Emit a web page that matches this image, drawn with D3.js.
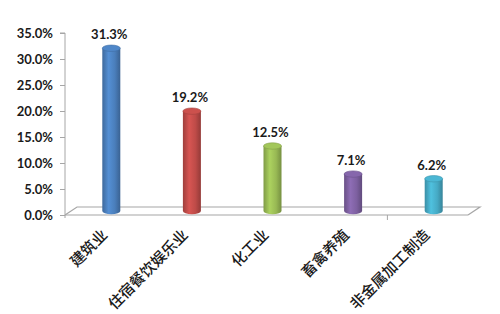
<!DOCTYPE html>
<html><head><meta charset="utf-8">
<script src="https://cdn.jsdelivr.net/npm/d3@7"></script>
<style>body{margin:0;background:#fff}svg{display:block}</style>
</head><body>
<svg id="c" width="500" height="314"></svg>
<script>
const categories = ["建筑业","住宿餐饮娱乐业","化工业","畜禽养殖","非金属加工制造"];
const values = [31.3, 19.2, 12.5, 7.1, 6.2];
const colors = ["#4a7ebb","#be4b48","#98b954","#7d60a0","#46aac5"];
const yTicks = [0,5,10,15,20,25,30,35];

const svg = d3.select("#c");
const x0 = 65, x1 = 468, yTop = 33, yBot = 215;
const dx = 12, dy = -8;
const x = d3.scaleBand().domain(categories).range([x0, x1]).padding(0);
const y = d3.scaleLinear().domain([0, 35]).range([yBot, yTop]);
const axisCol = "#a6a6a6";

const defs = svg.append("defs");
colors.forEach((c, i) => {
  const g = defs.append("linearGradient").attr("id", "g" + i).attr("x1", "0").attr("x2", "1").attr("y1", "0").attr("y2", "0");
  const base = d3.color(c);
  g.append("stop").attr("offset", "0").attr("stop-color", base.darker(0.5));
  g.append("stop").attr("offset", "0.35").attr("stop-color", base.brighter(0.35));
  g.append("stop").attr("offset", "0.7").attr("stop-color", base);
  g.append("stop").attr("offset", "1").attr("stop-color", base.darker(0.7));
});

// floor
svg.append("path")
  .attr("d", `M${x0},${yBot}L${x0+dx},${yBot+dy}L${x1+dx},${yBot+dy}L${x1},${yBot}`)
  .attr("fill", "none").attr("stroke", axisCol).attr("stroke-width", 1.2);
svg.append("line").attr("x1", x0).attr("x2", x1).attr("y1", yBot).attr("y2", yBot)
  .attr("stroke", axisCol).attr("stroke-width", 1.2);

// y axis
const yAxis = d3.axisLeft(y).tickValues(yTicks).tickSize(5).tickFormat(d => d.toFixed(1) + "%");
const ga = svg.append("g").attr("transform", `translate(${x0},0)`).call(yAxis);
ga.select(".domain").attr("stroke", axisCol).attr("d", `M-5,${yTop}H0V${yBot+3}`);
ga.selectAll(".tick line").attr("stroke", axisCol);
ga.selectAll(".tick text").attr("x", -12).attr("fill", "#1a1a1a")
  .style("font", "bold 13px Lato, 'Liberation Sans', sans-serif");

// category boundary tick
svg.append("line").attr("x1", x(categories[4])).attr("x2", x(categories[4]))
  .attr("y1", yBot).attr("y2", yBot + 5).attr("stroke", axisCol);

// cylinders
const bw = 18, ry = 3.2;
const bars = svg.append("g").selectAll("g").data(values).join("g");
bars.each(function(v, i) {
  const cx = x(categories[i]) + x.bandwidth() / 2 + dx / 2;
  const yb = y(0) + dy / 2;
  const yt = y(v) + dy / 2;
  const g = d3.select(this);
  g.append("path")
    .attr("d", `M${cx-bw/2},${yt}L${cx-bw/2},${yb}A${bw/2},${ry} 0 0 0 ${cx+bw/2},${yb}L${cx+bw/2},${yt}Z`)
    .attr("fill", `url(#g${i})`);
  g.append("ellipse").attr("cx", cx).attr("cy", yt).attr("rx", bw/2).attr("ry", ry)
    .attr("fill", d3.color(colors[i]).brighter(0.2)).attr("stroke", d3.color(colors[i]).darker(0.4)).attr("stroke-width", 0.6);
  g.append("text").attr("x", cx - 2).attr("y", yt - 9).attr("text-anchor", "middle")
    .attr("fill", "#1a1a1a").style("font", "bold 13px Lato, 'Liberation Sans', sans-serif")
    .text(v.toFixed(1) + "%");
});

// category labels
svg.append("g").selectAll("text").data(categories).join("text")
  .attr("transform", d => `translate(${x(d) + x.bandwidth()/2 + 3},${yBot + 21}) rotate(-45)`)
  .attr("text-anchor", "end").attr("fill", "#1a1a1a")
  .style("font", "500 15px 'Noto Sans CJK SC', sans-serif")
  .text(d => d);
</script>
</body></html>
